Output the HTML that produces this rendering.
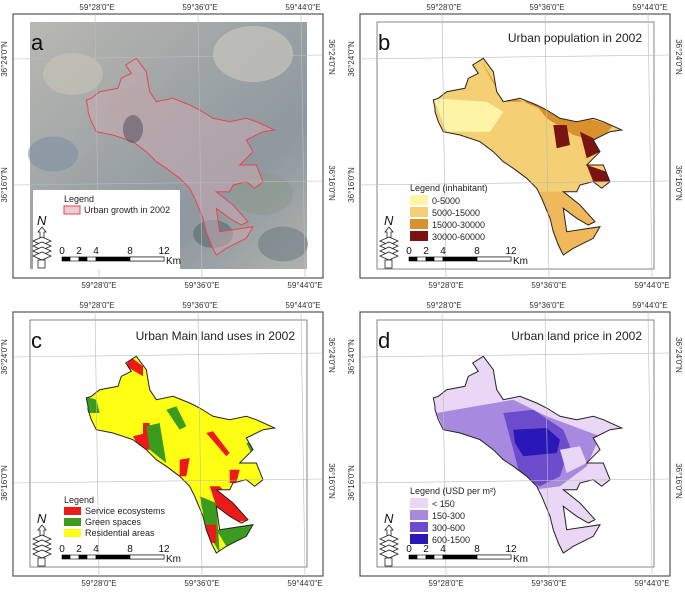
<!DOCTYPE html>
<html><head><meta charset="utf-8"><style>
html,body{margin:0;padding:0;background:#fff;}
svg{display:block;font-family:"Liberation Sans",sans-serif;}
</style></head><body>
<svg id="fig" width="685" height="592" viewBox="0 0 685 592" xmlns="http://www.w3.org/2000/svg">
<defs>
<linearGradient id="sat" x1="0" y1="0" x2="1" y2="1">
<stop offset="0" stop-color="#b9b8b2"/><stop offset="0.4" stop-color="#9fa5a6"/><stop offset="0.7" stop-color="#8f98a0"/><stop offset="1" stop-color="#b0b2ab"/>
</linearGradient>
</defs>
</svg>
<script>
const NS="http://www.w3.org/2000/svg";
const svg=document.getElementById('fig');
// city outline (zoom units, relative to panel frame, /3)
const cityPts=[[265,350],[260,325],[275,320],[300,300],[355,290],[365,260],[395,245],[378,220],[410,200],[440,240],[450,300],[470,330],[520,320],[570,340],[600,355],[640,380],[690,390],[740,380],[770,390],[825,415],[790,420],[740,445],[760,480],[740,500],[720,520],[770,520],[790,570],[765,590],[740,570],[700,580],[690,600],[650,600],[700,640],[745,690],[725,700],[690,680],[650,650],[660,720],[760,705],[740,740],[680,770],[650,790],[635,760],[620,720],[610,680],[585,620],[570,590],[540,560],[500,530],[470,510],[440,480],[400,450],[340,430],[290,420],[275,390],[265,360]];
const topTicks=["59°28'0\"E","59°36'0\"E","59°44'0\"E"];
const sideTicks=["36°24'0\"N","36°16'0\"N"];
const scaleLabels=["0","2","4","8","12"];
const popCats=["0-5000","5000-15000","15000-30000","30000-60000"];
const popColors=["#fdf4a6","#f5cf74","#d9902e","#7a1410"];
const useCats=["Service ecosystems","Green spaces","Residential areas"];
const useColors=["#ee1a1a","#3b9b1f","#ffff14"];
const priceCats=["< 150","150-300","300-600","600-1500"];
const priceColors=["#ead6f5","#a889e0","#6c4ccd","#2a17b8"];

function el(tag,attrs,parent,text){const e=document.createElementNS(NS,tag);for(const k in attrs)e.setAttribute(k,attrs[k]);if(text!==undefined)e.textContent=text;(parent||svg).appendChild(e);return e;}
function cityPath(){return cityPts.map((p,i)=>(i?'L':'M')+((p[0]-40)/3).toFixed(1)+','+((p[1]-67)/3).toFixed(1)).join('')+'Z';}
function z(x,y){return [(x-40)/3,(y-67)/3];}
function poly(pts){return pts.map((p,i)=>{const q=z(p[0],p[1]);return (i?'L':'M')+q[0].toFixed(1)+','+q[1].toFixed(1);}).join('')+'Z';}

function panel(ox,oy,id,letter,title){
  const g=el('g',{transform:`translate(${ox},${oy})`});
  
  
  el('rect',{x:0,y:0,width:310,height:264,fill:'#fff',stroke:'#555','stroke-width':1.2},g);
  const inner=el('g',{},g);
  if(id==='a'){
    el('rect',{x:17,y:8,width:277,height:247,fill:'url(#sat)'},inner);
    const blobs=[[60,60,30,'#c8c4b8'],[240,40,40,'#cfcbc0'],[40,140,25,'#7f8fa3'],[250,180,30,'#8e9a8e'],[270,230,25,'#6f7d86'],[120,90,25,'#a7a39b'],[200,220,20,'#566a70']];
    blobs.forEach(b=>el('ellipse',{cx:b[0],cy:b[1],rx:b[2],ry:b[2]*0.7,fill:b[3],opacity:0.6},inner));
    const c=el('path',{d:cityPath(),fill:'#c8a9b2','fill-opacity':0.55,stroke:'#e4484e','stroke-width':1},inner);
    
    el('ellipse',{cx:120,cy:115,rx:10,ry:14,fill:'#4c4556',opacity:0.5},inner);
  } else {
    el('rect',{x:17,y:8,width:277,height:247,fill:'#fff',stroke:'#666','stroke-width':0.8},inner);
    const cid='clip'+id;
    const cp=el('clipPath',{id:cid},g);el('path',{d:cityPath()},cp);
    const base={b:'#f5cf74',c:'#ffff14',d:'#ead6f5'}[id];
    el('path',{d:cityPath(),fill:base},inner);
    const cg=el('g',{'clip-path':`url(#${cid})`},inner);
    if(id==='b'){
      el('path',{d:poly([[260,320],[420,330],[470,360],[430,420],[300,420]]),fill:'#fdf4a6'},cg);
      el('path',{d:poly([[400,200],[470,330],[560,330],[600,360],[460,300]]),fill:'#d9902e'},cg);
      el('path',{d:poly([[560,330],[720,380],[800,400],[760,450],[680,430],[600,380]]),fill:'#d9902e'},cg);
      el('path',{d:poly([[620,400],[660,400],[670,460],[630,470]]),fill:'#7a1410'},cg);
      el('path',{d:poly([[700,420],[740,440],[760,480],[720,500]]),fill:'#7a1410'},cg);
      el('path',{d:poly([[720,520],[780,540],[790,570],[740,570]]),fill:'#7a1410'},cg);
      el('path',{d:poly([[580,600],[800,600],[800,800],[580,800]]),fill:'#f0b85a'},cg);
    } else if(id==='c'){
      const R=useColors[0],G=useColors[1];
      [[[[430,400],[450,400],[450,480],[430,480]],R],[[[400,440],[440,430],[450,470],[420,475]],R],[[[440,410],[480,400],[500,520],[450,480]],G],[[[620,430],[640,425],[690,490],[680,500]],R],[[[540,510],[570,505],[560,560],[540,560]],R],[[[500,360],[530,350],[560,410],[540,420]],G],[[[630,590],[660,590],[750,690],[700,700],[650,650]],R],[[[600,620],[650,640],[660,790],[620,720]],G],[[[650,720],[760,705],[740,740],[680,770]],G],[[[615,705],[650,705],[650,760],[630,760]],R],[[[740,460],[790,450],[800,500],[760,500]],G],[[[390,200],[430,230],[430,260],[380,230]],R],[[[255,320],[290,330],[300,370],[255,370]],G],[[[690,540],[720,540],[710,580],[690,580]],R]].forEach(s=>el('path',{d:poly(s[0]),fill:s[1]},cg));
    } else {
      el('path',{d:poly([[270,370],[500,330],[600,380],[760,440],[720,530],[640,590],[560,600],[480,530],[400,480],[300,440]]),fill:priceColors[1]},cg);
      el('path',{d:poly([[470,370],[560,360],[650,420],[670,470],[640,560],[580,590],[520,560],[500,480]]),fill:priceColors[2]},cg);
      el('path',{d:poly([[500,420],[600,415],[640,450],[630,490],[530,500],[505,460]]),fill:priceColors[3]},cg);
      el('path',{d:poly([[640,480],[700,470],[720,520],[660,550]]),fill:priceColors[0]},cg);
    }
    el('path',{d:cityPath(),fill:'none',stroke:'#222','stroke-width':1},inner);
  }
  // graticule
  const gr=el('g',{stroke:'#bbb','stroke-width':0.6,fill:'none'},g);
  [84,187,290].forEach(x=>el('line',{x1:x-2,y1:0,x2:x+2,y2:264},gr));
  [43,169].forEach(y=>el('line',{x1:0,y1:y+2,x2:310,y2:y-2},gr));
  // ticks
  topTicks.forEach((t,i)=>{const x=84+103*i;
    const a=el('text',{x:x,y:-4,'font-size':8,'text-anchor':'middle',fill:'#333'},g,t);
    const b=el('text',{x:x+2,y:274,'font-size':8,'text-anchor':'middle',fill:'#333'},g,t);});
  sideTicks.forEach((t,i)=>{const y=43+126*i;
    const a=el('text',{x:0,y:0,'font-size':8,'text-anchor':'middle',fill:'#333',transform:`translate(-6,${y+2}) rotate(-90)`},g,t);
    const b=el('text',{x:0,y:0,'font-size':8,'text-anchor':'middle',fill:'#333',transform:`translate(316,${y}) rotate(90)`},g,t);});
  if(id==='a') el('rect',{x:20,y:176,width:147,height:79,fill:'#fff'},g);
  const L=el('text',{x:18,y:36,'font-size':22,fill:'#111'},g,letter);
  if(title){const T=el('text',{x:282,y:28,'font-size':12,'text-anchor':'end',fill:'#222'},g,title);}
  // north arrow
  const na=el('g',{stroke:'#222','stroke-width':0.8,fill:'#fff'},g);
  
  el('text',{x:24,y:211,'font-size':13,'font-style':'italic',fill:'#111',stroke:'none'},na,'N');
  el('path',{d:'M29,213 L33,218 L31,218 L31,224 L27,224 L27,218 L25,218 Z'},na);
  [224,229,234,239].forEach(y=>el('path',{d:`M20,${y+3} L29,${y-1} L38,${y+3} L29,${y+7} Z`},na));
  el('rect',{x:25,y:246,width:7,height:8},na);
  // scale bar
  const sb=el('g',{},g);
  const sx=[49,57,66,74,83,117,151];
  for(let i=0;i<6;i++) el('rect',{x:sx[i],y:243,width:sx[i+1]-sx[i],height:4,fill:(i%2===0||i===4)?'#000':'#fff',stroke:'#000','stroke-width':0.6},sb);
  el('rect',{x:117,y:243,width:34,height:4,fill:'#fff',stroke:'#000','stroke-width':0.6},sb);
  [49,66,83,117,151].forEach((x,i)=>el('text',{x:x,y:240,'font-size':10,'text-anchor':'middle',fill:'#111'},sb,scaleLabels[i]));
  el('text',{x:153,y:250,'font-size':10,fill:'#111'},sb,'Km');
  return g;
}
function legend(g,title,cats,colors,x,y,sw,sh,step){
  const lg=el('g',{},g);
  el('text',{x:x,y:y,'font-size':9,fill:'#222'},lg,title);
  cats.forEach((c,i)=>{const e=el('g',{},lg);
    
    el('rect',{x:x,y:y+4+i*step,width:sw,height:sh,fill:colors[i],stroke:colors[i]==='#e9cdd3'?'#e4484e':'none'},e);
    el('text',{x:x+sw+4,y:y+4+i*step+sh-1,'font-size':9,fill:'#222'},e,c);});
}
const ga=panel(13,14,'a','a','');
legend(ga,'Legend',["Urban growth in 2002"],['#e9cdd3'],51,188,16,8,12);
const gb=panel(360,14,'b','b','Urban population in 2002');
legend(gb,'Legend (inhabitant)',popCats,popColors,50,177,18,10,12);
const gc=panel(13,312,'c','c','Urban Main land uses in 2002');
legend(gc,'Legend',useCats,useColors,51,191,17,8,11);
const gd=panel(360,312,'d','d','Urban land price in 2002');
legend(gd,'Legend (USD per m²)',priceCats,priceColors,50,182,18,10,12);
</script>
</body></html>
